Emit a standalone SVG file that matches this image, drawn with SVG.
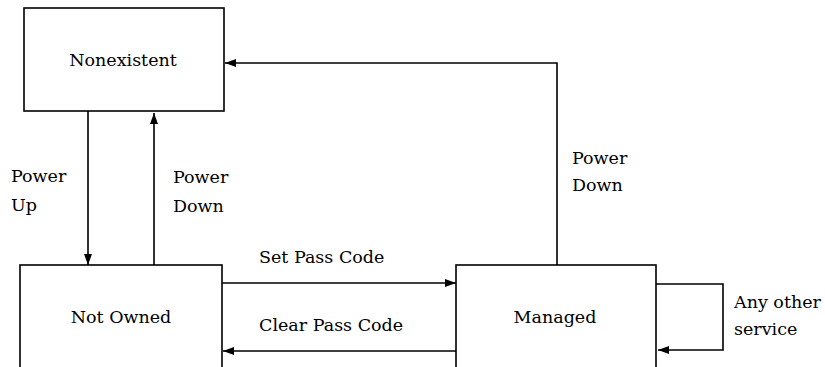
<svg xmlns="http://www.w3.org/2000/svg" width="825" height="367" viewBox="0 0 825 367">
<style>
.box{fill:#fff;stroke:#000;stroke-width:1.6}
.ln{fill:none;stroke:#000;stroke-width:1.6}
.t{font-family:'DejaVu Serif','Liberation Serif',serif;font-size:17.5px;fill:#000}
.c{text-anchor:middle}
</style>
<defs>
<marker id="ah" markerWidth="12" markerHeight="10" refX="11" refY="5" orient="auto" markerUnits="userSpaceOnUse">
<path d="M0,1 L11,5 L0,9 Z" fill="#000"/>
</marker>
</defs>
<rect width="825" height="367" fill="#fff"/>
<g id="nonexistent"><rect class="box" x="24" y="8" width="200" height="103"/><text class="t c" x="123" y="66">Nonexistent</text></g>
<g id="not-owned"><rect class="box" x="20" y="265" width="202" height="120"/><text class="t c" x="121" y="323">Not Owned</text></g>
<g id="managed"><rect class="box" x="456" y="265" width="200" height="120"/><text class="t c" x="555" y="323">Managed</text></g>
<g id="connectors">
<line class="ln" x1="88" y1="111" x2="88" y2="265" marker-end="url(#ah)"/>
<line class="ln" x1="154" y1="265" x2="154" y2="113" marker-end="url(#ah)"/>
<line class="ln" x1="222" y1="283" x2="456" y2="283" marker-end="url(#ah)"/>
<line class="ln" x1="456" y1="351" x2="223" y2="351" marker-end="url(#ah)"/>
<polyline class="ln" points="557,265 557,63 225,63" marker-end="url(#ah)"/>
<polyline class="ln" points="656,284 723,284 723,350 658,350" marker-end="url(#ah)"/>
</g>
<g id="labels" class="t">
<text x="11" y="182">Power</text><text x="11" y="211">Up</text>
<text x="173" y="183">Power</text><text x="173" y="212">Down</text>
<text x="572" y="164">Power</text><text x="572" y="191">Down</text>
<text x="259" y="263">Set Pass Code</text>
<text x="259" y="331">Clear Pass Code</text>
<text x="734" y="308">Any other</text><text x="734" y="335">service</text>
</g>
</svg>
